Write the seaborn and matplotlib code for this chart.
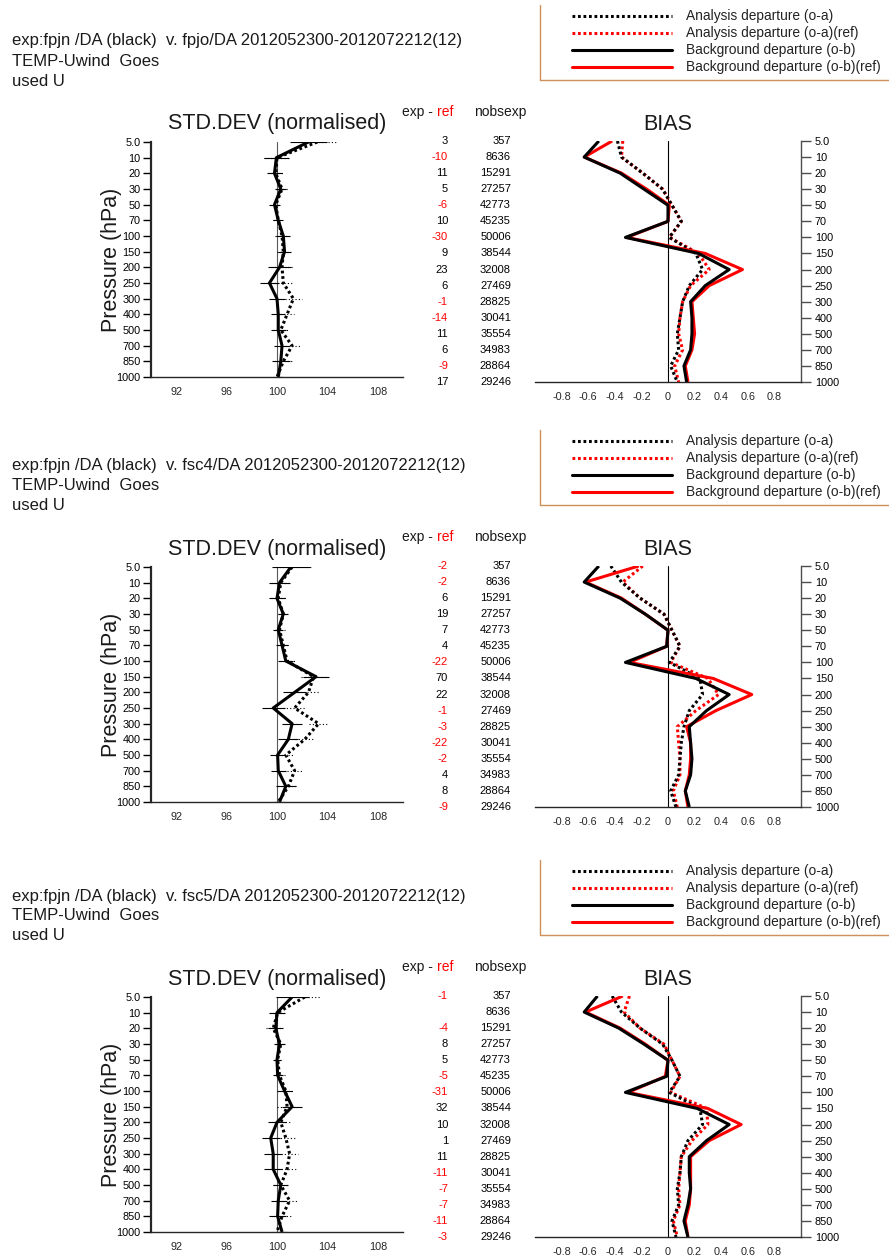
import numpy as np
import pandas as pd
import matplotlib
matplotlib.use("Agg")
import matplotlib.pyplot as plt
import matplotlib.transforms as mtransforms
from matplotlib.lines import Line2D
import seaborn as sns

# ---------------- data ----------------
levels = ["5.0", "10", "20", "30", "50", "70", "100", "150", "200", "250",
          "300", "400", "500", "700", "850", "1000"]
ref_names = ["fpjo", "fsc4", "fsc5"]
nobsexp = [357, 8636, 15291, 27257, 42773, 45235, 50006, 38544, 32008,
           27469, 28825, 30041, 35554, 34983, 28864, 29246]

exp_minus_ref_1 = [3, -10, 11, 5, -6, 10, -30, 9, 23, 6, -1, -14, 11, 6, -9, 17]
exp_minus_ref_2 = [-2, -2, 6, 19, 7, 4, -22, 70, 22, -1, -3, -22, -2, 4, 8, -9]
exp_minus_ref_3 = [-1, None, -4, 8, 5, -5, -31, 32, 10, 1, 11, -11, -7, -7, -11, -3]

# STD.DEV (normalised): background (o-b) solid, analysis (o-a) dotted
std_ob_1 = [102.5, 99.95, 99.8, 100.3, 99.8, 100.1, 100.5, 100.6, 100.2, 99.4,
            100.0, 100.1, 100.1, 100.4, 100.3, 100.1]
std_oa_1 = [103.2, 100.0, 99.9, 100.4, 99.9, 100.1, 100.4, 100.5, 100.4, 100.5,
            101.3, 100.8, 100.3, 101.2, 100.5, 100.0]
std_err_1 = [1.5, 1.0, 0.6, 0.45, 0.4, 0.4, 0.55, 0.5, 0.9, 0.75, 0.65, 0.55,
             0.6, 0.6, 0.7, 0.35]

std_ob_2 = [101.1, 100.2, 100.0, 100.5, 100.1, 100.4, 100.7, 103.1, 101.4, 99.7,
            101.2, 100.9, 100.05, 100.1, 100.7, 100.2]
std_oa_2 = [101.2, 100.3, 100.1, 100.5, 100.2, 100.5, 100.8, 102.9, 102.5, 101.4,
            103.3, 102.2, 100.7, 101.4, 100.9, 100.1]
std_err_2 = [1.5, 0.8, 0.6, 0.4, 0.4, 0.5, 0.6, 1.0, 0.9, 0.9, 0.8, 0.8, 0.6,
             0.6, 0.8, 0.4]

std_ob_3 = [101.2, 100.0, 99.9, 100.2, 100.0, 100.05, 100.6, 101.2, 100.0, 99.5,
            99.7, 99.7, 100.3, 100.1, 100.05, 100.4]
std_oa_3 = [102.2, 100.05, 99.7, 100.3, 100.05, 100.2, 100.7, 100.8, 100.3, 100.7,
            101.0, 100.8, 100.3, 101.0, 100.4, 100.0]
std_err_3 = [1.3, 0.6, 0.6, 0.4, 0.3, 0.4, 0.6, 0.8, 0.7, 0.7, 0.7, 0.7, 0.6,
             0.6, 0.7, 0.4]

# BIAS
bias_ob_exp_1 = [-0.52, -0.63, -0.36, -0.18, 0.0, 0.0, -0.32, 0.23, 0.46, 0.28,
                 0.17, 0.18, 0.18, 0.17, 0.12, 0.14]
bias_ob_ref_1 = [-0.42, -0.63, -0.35, -0.16, 0.01, 0.0, -0.31, 0.28, 0.56, 0.31,
                 0.18, 0.19, 0.20, 0.18, 0.13, 0.15]
bias_oa_exp_1 = [-0.38, -0.35, -0.19, -0.04, 0.03, 0.10, 0.01, 0.21, 0.26, 0.16,
                 0.11, 0.09, 0.07, 0.08, 0.02, 0.07]
bias_oa_ref_1 = [-0.34, -0.35, -0.19, -0.04, 0.03, 0.10, 0.01, 0.23, 0.31, 0.17,
                 0.11, 0.09, 0.08, 0.11, 0.05, 0.08]

bias_ob_exp_2 = [-0.52, -0.63, -0.36, -0.17, 0.0, -0.01, -0.32, 0.21, 0.46, 0.29,
                 0.16, 0.17, 0.18, 0.17, 0.13, 0.16]
bias_ob_ref_2 = [-0.22, -0.62, -0.35, -0.17, 0.0, -0.01, -0.29, 0.34, 0.63, 0.36,
                 0.14, 0.17, 0.17, 0.16, 0.13, 0.15]
bias_oa_exp_2 = [-0.43, -0.35, -0.21, -0.03, 0.03, 0.09, 0.01, 0.24, 0.26, 0.16,
                 0.12, 0.10, 0.09, 0.08, 0.02, 0.06]
bias_oa_ref_2 = [-0.19, -0.34, -0.21, -0.03, 0.03, 0.09, 0.02, 0.30, 0.38, 0.21,
                 0.07, 0.08, 0.09, 0.09, 0.04, 0.07]

bias_ob_exp_3 = [-0.53, -0.63, -0.37, -0.18, 0.0, -0.01, -0.32, 0.22, 0.46, 0.29,
                 0.16, 0.16, 0.17, 0.15, 0.12, 0.15]
bias_ob_ref_3 = [-0.34, -0.62, -0.36, -0.17, 0.0, -0.02, -0.30, 0.30, 0.55, 0.31,
                 0.17, 0.17, 0.17, 0.16, 0.13, 0.15]
bias_oa_exp_3 = [-0.42, -0.35, -0.21, -0.04, 0.03, 0.09, 0.01, 0.24, 0.26, 0.15,
                 0.10, 0.09, 0.07, 0.08, 0.03, 0.06]
bias_oa_ref_3 = [-0.29, -0.33, -0.21, -0.03, 0.03, 0.09, 0.02, 0.29, 0.30, 0.18,
                 0.10, 0.09, 0.08, 0.09, 0.04, 0.07]

std_x_ticks = [92, 96, 100, 104, 108]
bias_x_ticks = [-0.8, -0.6, -0.4, -0.2, 0, 0.2, 0.4, 0.6, 0.8]
bias_x_labels = ["-0.8", "-0.6", "-0.4", "-0.2", "0", "0.2", "0.4", "0.6", "0.8"]
legend_labels = ["Analysis departure (o-a)", "Analysis departure (o-a)(ref)",
                 "Background departure (o-b)", "Background departure (o-b)(ref)"]

panels = [
    dict(ref=ref_names[0], diff=exp_minus_ref_1, std_ob=std_ob_1, std_oa=std_oa_1,
         err=std_err_1, b_ob=bias_ob_exp_1, b_obr=bias_ob_ref_1,
         b_oa=bias_oa_exp_1, b_oar=bias_oa_ref_1),
    dict(ref=ref_names[1], diff=exp_minus_ref_2, std_ob=std_ob_2, std_oa=std_oa_2,
         err=std_err_2, b_ob=bias_ob_exp_2, b_obr=bias_ob_ref_2,
         b_oa=bias_oa_exp_2, b_oar=bias_oa_ref_2),
    dict(ref=ref_names[2], diff=exp_minus_ref_3, std_ob=std_ob_3, std_oa=std_oa_3,
         err=std_err_3, b_ob=bias_ob_exp_3, b_obr=bias_ob_ref_3,
         b_oa=bias_oa_exp_3, b_oar=bias_oa_ref_3),
]
panel_offsets = [0, 425, 855]

# ---------------- style ----------------
sns.set_style("ticks")
plt.rcParams["font.family"] = ["Liberation Sans", "DejaVu Sans"]
plt.rcParams["axes.linewidth"] = 1.0

W, H = 889, 1257
fig = plt.figure(figsize=(W / 100, H / 100), dpi=100)
fig.patch.set_facecolor("white")


def fx(x):
    return x / W


def fy(y):
    return 1 - y / H


RED = "#ff0000"
DOT = (0, (0.9, 0.9))
pos = np.arange(len(levels))
box_color = "#cf8f5a"
TXT = "#1a1a1a"


def line(ax, vals, color, ls, lw=2.2):
    d = pd.DataFrame({"v": vals, "p": pos})
    sns.lineplot(data=d, x="v", y="p", sort=False, estimator=None, orient="y",
                 color=color, linestyle=ls, linewidth=lw, ax=ax,
                 dash_capstyle="butt", solid_capstyle="butt")


for k, (P, off) in enumerate(zip(panels, panel_offsets)):
    # header text
    fig.text(fx(12), fy(41 + off),
             f"exp:fpjn /DA (black)  v. {P['ref']}/DA 2012052300-2012072212(12)",
             fontsize=12.0, va="center", ha="left", color=TXT)
    fig.text(fx(12), fy(61 + off), "TEMP-Uwind  Goes", fontsize=12.0,
             va="center", color=TXT)
    fig.text(fx(12), fy(81 + off), "used U", fontsize=12.0, va="center", color=TXT)

    # legend (manual, with open box)
    styles = [("black", DOT), (RED, DOT), ("black", "-"), (RED, "-")]
    for i, ((c, ls), lab) in enumerate(zip(styles, legend_labels)):
        yy = fy(16 + 17 * i + off)
        fig.add_artist(Line2D([fx(572), fx(672)], [yy, yy], color=c, lw=2.2,
                              linestyle=ls, dash_capstyle="butt"))
        fig.text(fx(686), yy, lab, fontsize=9.9, va="center", ha="left",
                 color="#222222")
    fig.add_artist(Line2D([fx(540), fx(540)], [fy(5 + off), fy(80 + off)],
                          color=box_color, lw=1.0))
    fig.add_artist(Line2D([fx(540), fx(889)], [fy(80 + off), fy(80 + off)],
                          color=box_color, lw=1.0))

    # ---- STD.DEV axes ----
    ax_s = fig.add_axes([fx(151), fy(377 + off), (403 - 151) / W, 235 / H])
    ax_s.set_facecolor("none")
    ax_s.axvline(100, color="0.35", lw=0.8, zorder=1)
    ax_s.hlines(pos, np.array(P["std_ob"]) - np.array(P["err"]),
                np.array(P["std_ob"]) + np.array(P["err"]), color="black", lw=0.8)
    ax_s.hlines(pos, np.array(P["std_oa"]) - np.array(P["err"]),
                np.array(P["std_oa"]) + np.array(P["err"]), color="black", lw=0.8,
                linestyle=(0, (1, 2)))
    line(ax_s, P["std_oa"], "black", DOT)
    line(ax_s, P["std_ob"], "black", "-")
    ax_s.set_xlim(90, 110)
    ax_s.set_ylim(len(levels) - 1, 0)
    ax_s.set_yticks(pos)
    ax_s.set_yticklabels(levels)
    ax_s.set_xticks(std_x_ticks)
    ax_s.set_xticklabels([str(t) for t in std_x_ticks])
    ax_s.set_xlabel("")
    ax_s.set_ylabel("")
    for s in ["top", "right"]:
        ax_s.spines[s].set_visible(False)
    ax_s.spines["left"].set_linewidth(1.6)
    ax_s.tick_params(axis="y", direction="out", length=5.5, width=1.0, pad=2,
                     labelsize=7.8, colors="black")
    ax_s.tick_params(axis="x", length=0, pad=7, labelsize=7.8)
    ax_s.set_title("STD.DEV (normalised)", fontsize=15.5, pad=9, color=TXT)
    fig.text(fx(112), fy(260 + off), "Pressure (hPa)", rotation=90,
             fontsize=15.5, ha="center", va="center", color=TXT)

    # ---- BIAS axes ----
    ax_b = fig.add_axes([fx(535), fy(382 + off), 266 / W, 241 / H])
    ax_b.set_facecolor("none")
    ax_b.axvline(0, color="black", lw=0.8, zorder=1)
    line(ax_b, P["b_oar"], RED, DOT)
    line(ax_b, P["b_oa"], "black", DOT)
    line(ax_b, P["b_obr"], RED, "-")
    line(ax_b, P["b_ob"], "black", "-")
    ax_b.set_xlim(-1, 1)
    ax_b.set_ylim(len(levels) - 1, 0)
    ax_b.set_yticks(pos)
    ax_b.set_yticklabels(levels)
    ax_b.yaxis.tick_right()
    ax_b.set_xticks(bias_x_ticks)
    ax_b.set_xticklabels(bias_x_labels)
    ax_b.set_xlabel("")
    ax_b.set_ylabel("")
    for s in ["top", "left"]:
        ax_b.spines[s].set_visible(False)
    ax_b.spines["right"].set_color("0.3")
    ax_b.tick_params(axis="y", direction="out", length=7, width=1.0, pad=3,
                     labelsize=7.8, colors="black")
    ax_b.tick_params(axis="y", color="0.3")
    ax_b.tick_params(axis="x", length=0, pad=7, labelsize=7.8)
    ax_b.set_title("BIAS", fontsize=15.5, pad=8, color=TXT)

    # ---- numbers columns ----
    tr = mtransforms.blended_transform_factory(fig.transFigure, ax_b.transData)
    for i, (dv, nb) in enumerate(zip(P["diff"], nobsexp)):
        if dv is not None:
            fig.text(fx(448), i, str(dv), transform=tr, ha="right", va="center",
                     fontsize=8, color=RED if dv < 0 else "black")
        fig.text(fx(511), i, str(nb), transform=tr, ha="right", va="center",
                 fontsize=8, color="black")
    fig.text(fx(437), fy(112 + off), "exp - ", ha="right", va="center",
             fontsize=10, color=TXT)
    fig.text(fx(437), fy(112 + off), "ref", ha="left", va="center", fontsize=10,
             color=RED)
    fig.text(fx(474), fy(112 + off), "nobsexp", ha="left", va="center",
             fontsize=10, color=TXT)

fig.savefig("out.png", dpi=100, facecolor="white")
